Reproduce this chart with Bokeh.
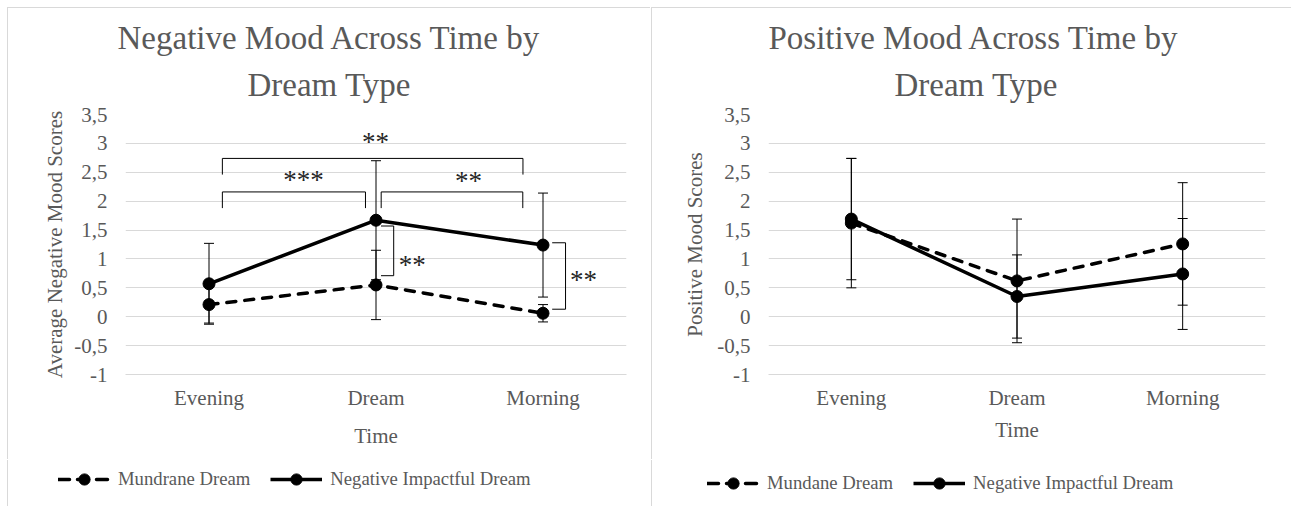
from bokeh.plotting import figure
from bokeh.models import (Range1d, FixedTicker, ColumnDataSource, Whisker, TeeHead,
                          Legend, LegendItem, Title)
from bokeh.layouts import row, column
from bokeh.embed import file_html
from bokeh.resources import INLINE
from bokeh.core.properties import value

# ---------------- data ----------------
categories = ["Evening", "Dream", "Morning"]
y_ticks = [-1, -0.5, 0, 0.5, 1, 1.5, 2, 2.5, 3, 3.5]
y_tick_labels = ["-1", "-0,5", "0", "0,5", "1", "1,5", "2", "2,5", "3", "3,5"]

neg_mundane = [0.21, 0.55, 0.06]
neg_mundane_err = [0.32, 0.60, 0.15]
neg_impact = [0.57, 1.67, 1.24]
neg_impact_err = [0.70, 1.03, 0.90]

pos_mundane = [1.62, 0.62, 1.26]
pos_mundane_err = [1.12, 1.07, 1.06]
pos_impact = [1.69, 0.35, 0.74]
pos_impact_err = [1.05, 0.72, 0.96]

sig_labels = ["**", "***", "**", "**", "**"]

FONT = "Liberation Serif"
GREY = "#595959"
GRID = "#d9d9d9"

x_pos = [i + 0.5 for i in range(len(categories))]


def make_chart(title_lines, title_offsets, ylabel, series, width, height, borders,
               margin, xstand):
    bl, br, bt, bb = borders
    p = figure(width=width, height=height, x_range=Range1d(0, len(categories)),
               y_range=Range1d(y_ticks[0], y_ticks[-1]), output_backend="svg",
               toolbar_location=None, min_border_left=bl, min_border_right=br,
               min_border_top=bt, min_border_bottom=bb, title=None, margin=margin,
               styles={"box-shadow": "-1px -1px 0 0 #d9d9d9"})
    p.outline_line_color = None
    inner = Title(text=title_lines[1], align="left", offset=title_offsets[1], standoff=24,
                  text_font=FONT, text_font_size="33px", text_font_style="normal",
                  text_color=GREY, text_line_height=0.85)
    outer = Title(text=title_lines[0], align="left", offset=title_offsets[0], standoff=-6,
                  text_font=FONT, text_font_size="33px", text_font_style="normal",
                  text_color=GREY)
    p.add_layout(inner, "above")
    p.add_layout(outer, "above")

    p.xaxis.ticker = FixedTicker(ticks=x_pos)
    p.xaxis.major_label_overrides = {x: c for x, c in zip(x_pos, categories)}
    p.yaxis.ticker = FixedTicker(ticks=y_ticks)
    p.yaxis.major_label_overrides = {t: l for t, l in zip(y_ticks, y_tick_labels)}
    for ax in (p.xaxis, p.yaxis):
        ax.major_tick_line_color = None
        ax.minor_tick_line_color = None
        ax.major_label_text_font = FONT
        ax.major_label_text_font_size = "21px"
        ax.major_label_text_color = GREY
        ax.axis_label_text_font = FONT
        ax.axis_label_text_font_size = "21px"
        ax.axis_label_text_font_style = "normal"
        ax.axis_label_text_color = GREY
    p.xaxis.axis_label = "Time"
    p.yaxis.axis_label = ylabel
    p.xaxis.axis_line_color = GRID
    p.yaxis.axis_line_color = None
    p.yaxis.major_label_standoff = 12
    p.xaxis.major_label_standoff = xstand[0]
    p.xaxis.axis_label_standoff = xstand[1]
    p.yaxis.axis_label_standoff = xstand[2]
    p.xgrid.visible = False
    p.ygrid.ticker = FixedTicker(ticks=y_ticks)
    p.ygrid.grid_line_color = GRID

    for label, vals, errs, dash in series:
        src = ColumnDataSource(dict(x=x_pos, y=vals,
                                    upper=[v + e for v, e in zip(vals, errs)],
                                    lower=[v - e for v, e in zip(vals, errs)]))
        w = Whisker(base="x", upper="upper", lower="lower", source=src,
                    line_color="#000000", line_width=1,
                    upper_head=TeeHead(size=10, line_color="#000000", line_width=1),
                    lower_head=TeeHead(size=10, line_color="#000000", line_width=1))
        p.add_layout(w)
        if dash:
            p.line("x", "y", source=src, line_color="black", line_width=3.5,
                   line_dash="9 9", line_cap="round")
        else:
            p.line("x", "y", source=src, line_color="black", line_width=3.5)
        p.scatter("x", "y", source=src, size=12, color="black")
    return p


def make_legend(labels, width, height, margin, loc):
    f = figure(width=width, height=height, x_range=Range1d(0, 1), y_range=Range1d(0, 1),
               x_axis_type=None, y_axis_type=None, output_backend="svg",
               toolbar_location=None, min_border=0, margin=margin,
               styles={"box-shadow": "-1px 0 0 0 #d9d9d9"})
    f.outline_line_color = None
    f.grid.visible = False
    items = []
    # legend key renderers: one point kept outside the visible range
    for label, dash in zip(labels, (True, False)):
        if dash:
            lr = f.line(x=[5, 6], y=[5, 5], line_color="black", line_width=3.5,
                        line_dash="11 8", line_cap="round")
        else:
            lr = f.line(x=[5, 6], y=[5, 5], line_color="black", line_width=3.5)
        sr = f.scatter(x=[5], y=[5], size=12, color="black")
        items.append(LegendItem(label=label, renderers=[lr, sr]))
    leg = Legend(items=items, orientation="horizontal", location=loc)
    leg.label_text_font = FONT
    leg.label_text_font_size = "18.7px"
    leg.label_text_color = GREY
    leg.glyph_width = 52
    leg.glyph_height = 28
    leg.label_height = 28
    leg.spacing = 20
    leg.label_standoff = 8
    leg.padding = 0
    leg.margin = 0
    leg.border_line_color = None
    leg.background_fill_alpha = 0
    f.add_layout(leg, "center")
    return f


p1 = make_chart(["Negative Mood Across Time by", "Dream Type"], (-8, 122),
                "Average Negative Mood Scores",
                [("Mundrane Dream", neg_mundane, neg_mundane_err, True),
                 ("Negative Impactful Dream", neg_impact, neg_impact_err, False)],
                643, 452, (117, 25, 105, 86), (8, 0, 0, 8), (5, 11, 4))

# significance brackets (left chart)
brk_xs = [[0.58, 0.58, 2.38, 2.38], [0.58, 0.58, 1.437, 1.437], [1.531, 1.531, 2.379, 2.379],
          [1.53, 1.606, 1.606, 1.53], [2.555, 2.635, 2.635, 2.555]]
brk_ys = [[2.46, 2.74, 2.74, 2.46], [1.88, 2.16, 2.16, 1.88], [1.88, 2.16, 2.16, 1.88],
          [1.57, 1.57, 0.71, 0.71], [1.28, 1.28, 0.13, 0.13]]
p1.multi_line(brk_xs, brk_ys, line_color="#000000", line_width=1)
p1.text(x=[1.497, 1.066, 2.054, 1.717, 2.742], y=[3.086, 2.43, 2.41, 0.95, 0.69],
        text=sig_labels, text_font=value(FONT), text_font_size="27px",
        text_color="#262626", text_align="center", text_baseline="middle", y_offset=3.5)

p2 = make_chart(["Positive Mood Across Time by", "Dream Type"], (0, 126),
                "Positive Mood Scores",
                [("Mundane Dream", pos_mundane, pos_mundane_err, True),
                 ("Negative Impactful Dream", pos_impact, pos_impact_err, False)],
                640, 452, (116, 27, 106, 81), (8, 0, 0, 0), (5, 5, 7))

l1 = make_legend(["Mundrane Dream", "Negative Impactful Dream"], 643, 46, (0, 0, 0, 8), (50, 13))
l2 = make_legend(["Mundane Dream", "Negative Impactful Dream"], 640, 46, (0, 0, 0, 0), (55, 9))

layout = column(row(p1, p2, spacing=1), row(l1, l2, spacing=1), spacing=0)
open("out.html", "w").write(file_html(layout, INLINE))
